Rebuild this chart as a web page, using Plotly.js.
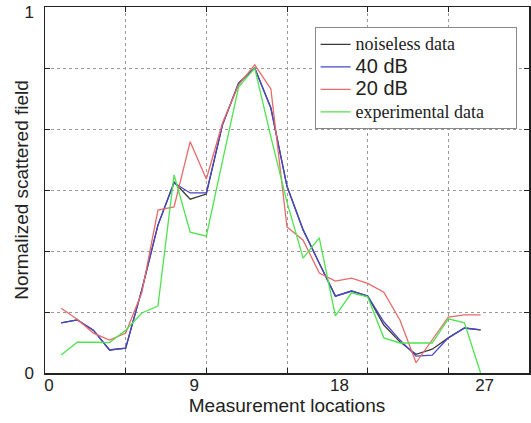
<!DOCTYPE html>
<html>
<head>
<meta charset="utf-8">
<script src="https://cdn.plot.ly/plotly-3.0.1.min.js"></script>
<style>html,body{margin:0;padding:0;background:#fff;}#chart{width:531px;height:423px;}</style>
</head>
<body>
<div id="chart"></div>
<script>
const locations = [1,2,3,4,5,6,7,8,9,10,11,12,13,14,15,16,17,18,19,20,21,22,23,24,25,26,27];
const noiseless = [0.137,0.145,0.117,0.063,0.068,0.227,0.404,0.522,0.475,0.489,0.678,0.792,0.833,0.724,0.51,0.391,0.30,0.21,0.224,0.21,0.131,0.085,0.051,0.065,0.096,0.123,0.118];
const db40 = [0.137,0.145,0.117,0.063,0.068,0.227,0.404,0.519,0.492,0.492,0.678,0.792,0.833,0.724,0.51,0.391,0.30,0.21,0.224,0.21,0.140,0.090,0.046,0.049,0.096,0.123,0.118];
const db20 = [0.177,0.147,0.109,0.090,0.109,0.219,0.445,0.454,0.632,0.530,0.683,0.787,0.842,0.776,0.399,0.363,0.273,0.251,0.259,0.245,0.221,0.145,0.028,0.090,0.153,0.159,0.159];
const experimental = [0.049,0.084,0.084,0.083,0.117,0.164,0.183,0.541,0.385,0.374,0.579,0.781,0.833,0.645,0.467,0.314,0.369,0.156,0.219,0.208,0.096,0.082,0.082,0.082,0.148,0.137,0.0];
const names = ['noiseless data','40 dB','20 dB','experimental data'];
const xTickVals = [0,9,18,27];
const xTickText = ['0','9','18','27'];
const xGridVals = [5,10,15,20,25];
const yGridVals = [0,1/6,2/6,3/6,4/6,5/6,1];

const serif = 'Liberation Serif, Times New Roman, serif';
const sans = 'Liberation Sans, Arial, sans-serif';
function mk(y, name, color, font, size, pad){
  return {x: locations, y: y, type:'scatter', mode:'lines', xaxis:'x', yaxis:'y',
    name: '<span style="font-family:'+font+';font-size:'+size+'px">'+name+'</span>' + (pad || ''),
    line:{color:color, width:1.3}};
}
const data = [
  mk(noiseless, names[0], '#3a3a3a', serif, 18),
  mk(db40, names[1], '#4747c8', sans, 20),
  mk(db20, names[2], '#e86a6a', sans, 20),
  mk(experimental, names[3], '#4ee44e', serif, 18, '&nbsp;&nbsp;&nbsp;&nbsp;&nbsp;&nbsp;&nbsp;')
];
const layout = {
  width:531, height:423,
  margin:{l:45, r:2, t:7, b:50},
  paper_bgcolor:'#fff', plot_bgcolor:'#fff',
  font:{family:sans, size:17, color:'#222'},
  showlegend:true,
  legend:{x:0.557, y:0.945, xanchor:'left', yanchor:'top', bgcolor:'#fff',
    bordercolor:'#888', borderwidth:1, font:{family:serif, size:15, color:'#222'},
    tracegroupgap:0, itemwidth:30},
  xaxis:{range:[0,30], tickmode:'array', tickvals:xGridVals, showticklabels:false,
    showgrid:true, gridcolor:'#9a9a9a', griddash:'dot', gridwidth:1,
    ticks:'inside', ticklen:5, tickcolor:'#222',
    showline:true, linecolor:'#222', linewidth:1.5, mirror:'ticks', zeroline:false,
    title:{text:''}},
  xaxis2:{overlaying:'x', side:'bottom', range:[0,30], tickmode:'array', tickvals:xTickVals, ticktext:xTickText,
    showgrid:false, ticks:'', zeroline:false, showline:false, ticklabelshift:4,
    tickfont:{family:sans, size:17, color:'#222'},
    title:{text:'Measurement locations', font:{family:sans, size:19, color:'#222'}, standoff:0}},
  yaxis:{range:[0,1], tickmode:'array', tickvals:yGridVals, showticklabels:false,
    showgrid:true, gridcolor:'#9a9a9a', griddash:'dot', gridwidth:1,
    ticks:'inside', ticklen:5, tickcolor:'#222',
    showline:true, linecolor:'#222', linewidth:1.5, mirror:'ticks', zeroline:false,
    title:{text:'Normalized scattered field', font:{family:sans, size:19, color:'#222'}, standoff:10}},
  yaxis2:{overlaying:'y', side:'left', range:[0,1], tickmode:'array', tickvals:[0], ticktext:['0'],
    showgrid:false, ticks:'', zeroline:false, showline:false, ticklabelstandoff:10,
    tickfont:{family:sans, size:17, color:'#222'}},
  yaxis3:{overlaying:'y', side:'left', range:[0,1], tickmode:'array', tickvals:[1], ticktext:['1'],
    showgrid:false, ticks:'', zeroline:false, showline:false, ticklabelstandoff:10, ticklabelshift:5,
    ticklabeloverflow:'allow', tickfont:{family:sans, size:17, color:'#222'}}
};
data.push({x:[0,30], y:[null,null], xaxis:'x2', yaxis:'y', type:'scatter', mode:'lines', showlegend:false, hoverinfo:'skip'});
data.push({x:[0,30], y:[null,null], xaxis:'x', yaxis:'y2', type:'scatter', mode:'lines', showlegend:false, hoverinfo:'skip'});
data.push({x:[0,30], y:[null,null], xaxis:'x', yaxis:'y3', type:'scatter', mode:'lines', showlegend:false, hoverinfo:'skip'});
Plotly.newPlot('chart', data, layout, {staticPlot:true});
</script>
</body>
</html>
